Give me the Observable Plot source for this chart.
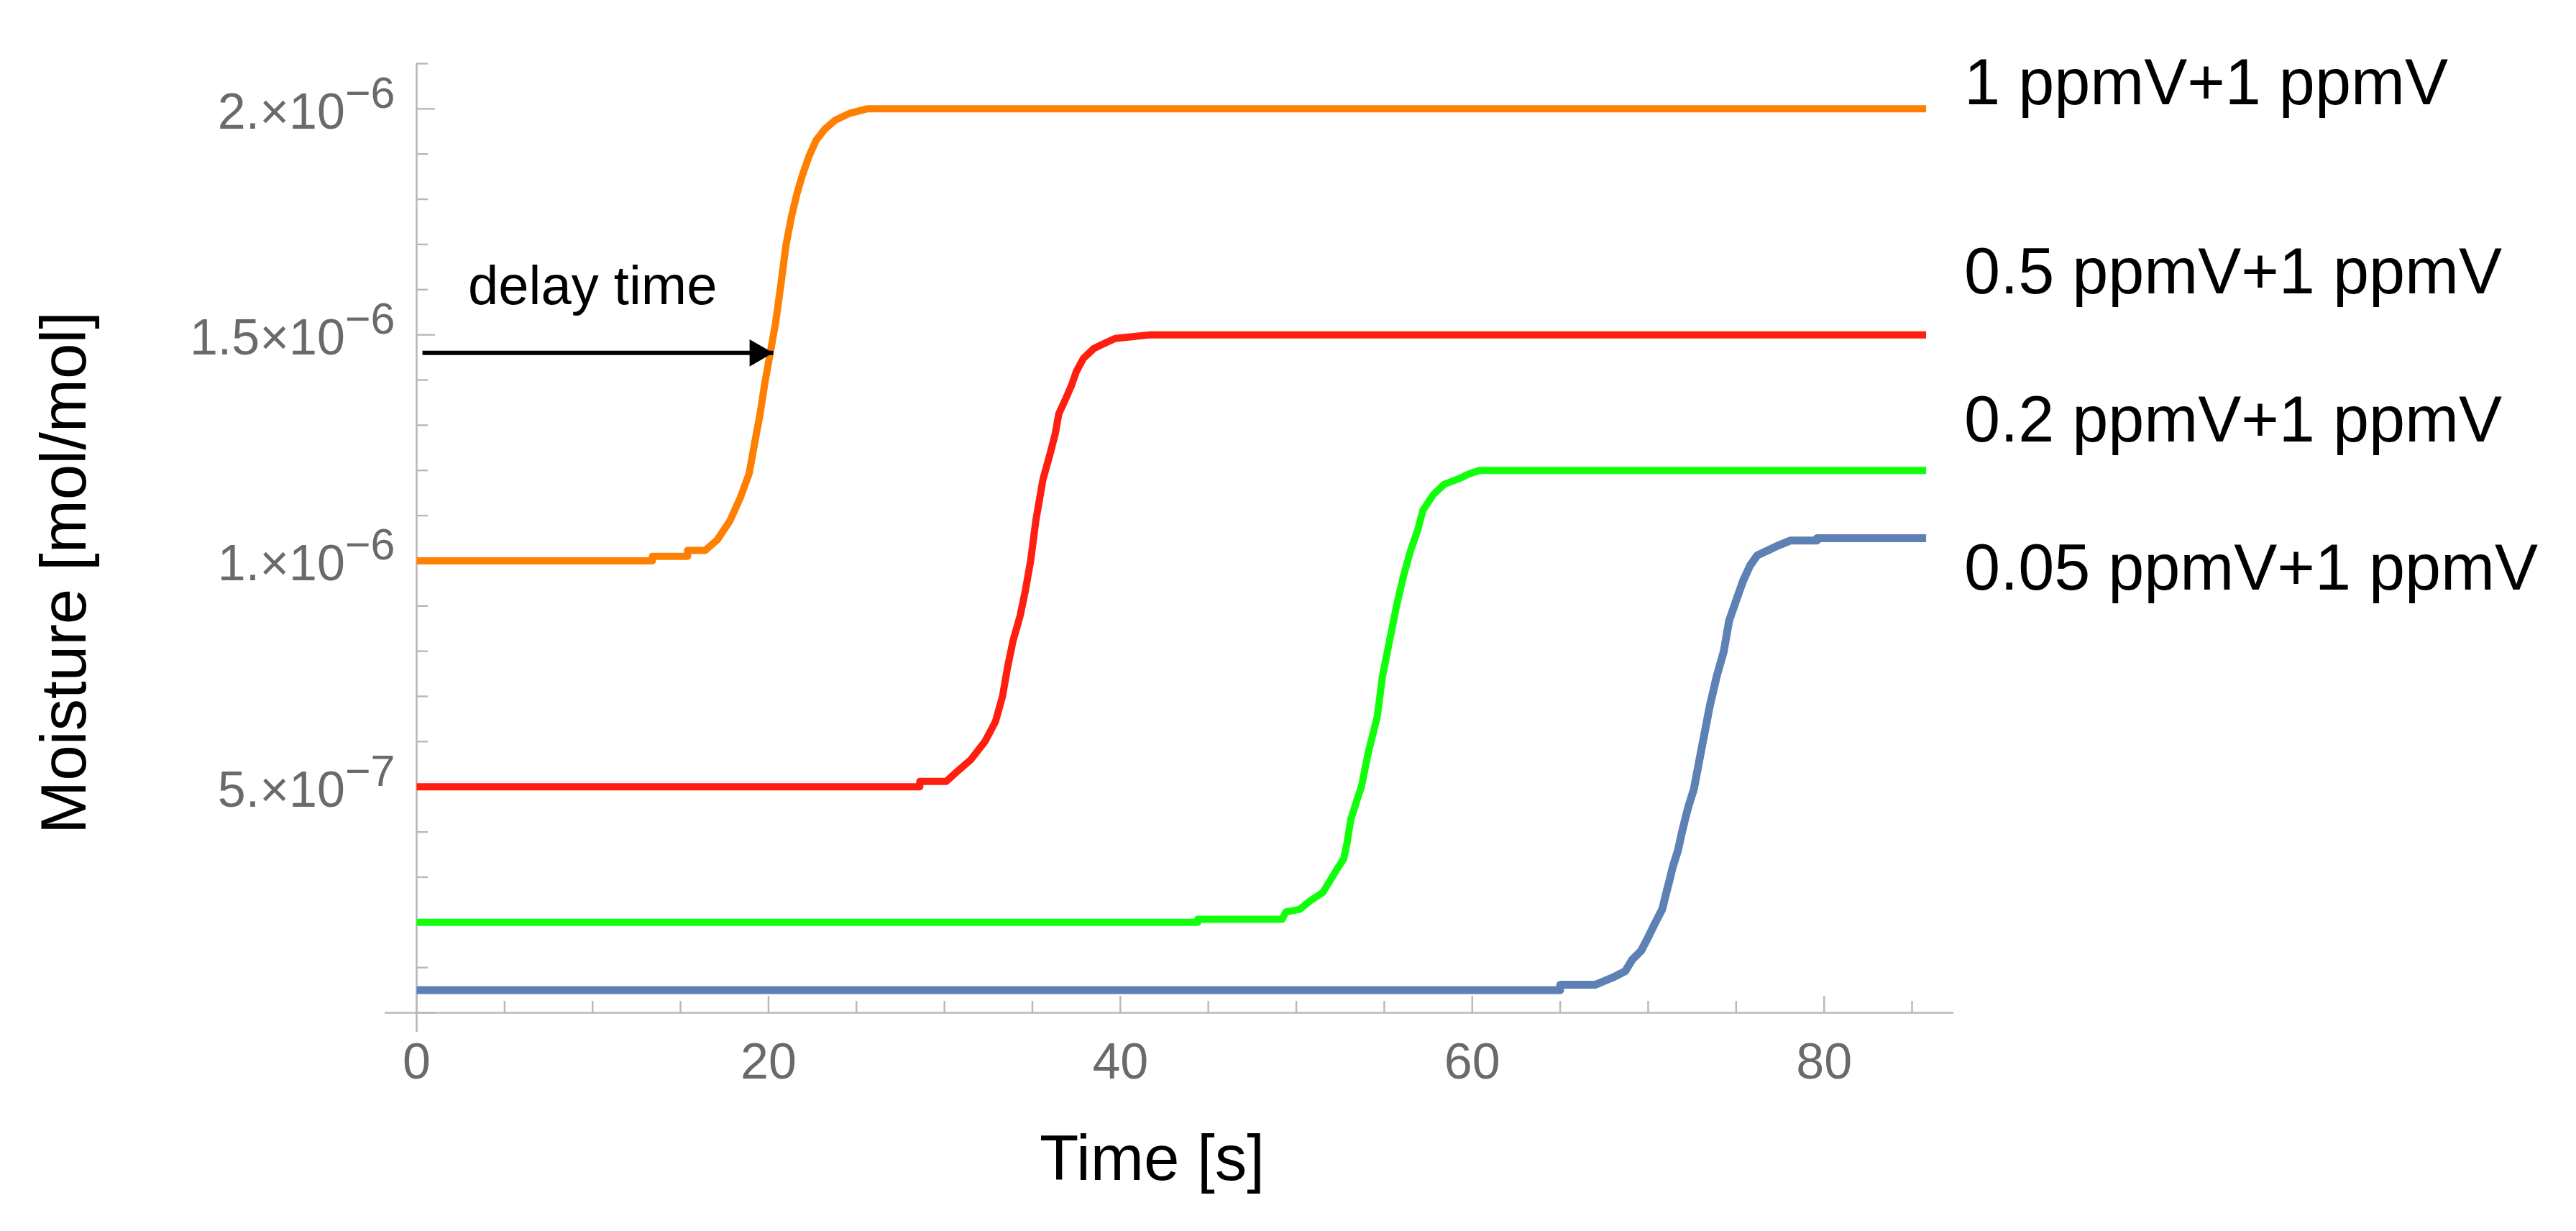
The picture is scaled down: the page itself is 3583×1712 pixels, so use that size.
<!DOCTYPE html>
<html>
<head>
<meta charset="utf-8">
<script src="https://cdn.jsdelivr.net/npm/d3@7"></script>
<script src="https://cdn.jsdelivr.net/npm/@observablehq/plot@0.6"></script>
<style>
  html, body { margin: 0; padding: 0; background: #ffffff; }
  #chart svg { display: block; }
</style>
</head>
<body>
<div id="chart"></div>
<script>
// ---------- data (moisture values in units of 1e-6 mol/mol) ----------
const seriesNames = ["1 ppmV+1 ppmV", "0.5 ppmV+1 ppmV", "0.2 ppmV+1 ppmV", "0.05 ppmV+1 ppmV"];

const orangeTime  = [0, 13.4, 13.4, 15.4, 15.4, 16.4, 17.1, 17.8, 18.4, 18.9, 19.2, 19.5, 19.8, 20.1, 20.4, 20.7, 21.0, 21.3, 21.6, 21.9, 22.3, 22.7, 23.2, 23.8, 24.6, 25.6, 85.8];
const orangeValue = [1.0, 1.0, 1.01, 1.01, 1.023, 1.023, 1.047, 1.088, 1.14, 1.193, 1.258, 1.32, 1.395, 1.46, 1.526, 1.61, 1.70, 1.76, 1.81, 1.85, 1.895, 1.93, 1.955, 1.975, 1.99, 2.0, 2.0];

const redTime  = [0, 28.6, 28.6, 30.1, 30.7, 31.5, 32.3, 32.9, 33.3, 33.6, 33.9, 34.3, 34.6, 34.9, 35.2, 35.6, 36.0, 36.3, 36.5, 36.9, 37.2, 37.5, 37.9, 38.5, 39.1, 39.7, 41.7, 85.8];
const redValue = [0.5, 0.5, 0.512, 0.512, 0.533, 0.56, 0.60, 0.644, 0.70, 0.767, 0.823, 0.878, 0.934, 1.0, 1.09, 1.18, 1.236, 1.281, 1.325, 1.359, 1.386, 1.419, 1.448, 1.47, 1.481, 1.492, 1.5, 1.5];

const greenTime  = [0, 44.4, 44.4, 49.2, 49.4, 50.2, 50.8, 51.5, 51.9, 52.3, 52.7, 52.9, 53.1, 53.5, 53.7, 54.1, 54.6, 54.9, 55.3, 55.7, 56.1, 56.5, 56.9, 57.2, 57.8, 58.4, 59.2, 59.8, 60.4, 85.8];
const greenValue = [0.2, 0.2, 0.207, 0.207, 0.223, 0.229, 0.248, 0.266, 0.291, 0.317, 0.341, 0.379, 0.428, 0.477, 0.50, 0.577, 0.655, 0.745, 0.823, 0.901, 0.967, 1.023, 1.068, 1.112, 1.147, 1.169, 1.181, 1.192, 1.2, 1.2];

const blueTime  = [0, 65.0, 65.0, 67.0, 68.1, 68.7, 69.1, 69.6, 70.0, 70.4, 70.8, 71.0, 71.2, 71.4, 71.7, 71.9, 72.1, 72.3, 72.6, 73.0, 73.5, 73.9, 74.3, 74.6, 75.0, 75.4, 75.8, 76.2, 76.8, 77.4, 78.1, 79.6, 79.6, 85.8];
const blueValue = [0.05, 0.05, 0.062, 0.062, 0.08, 0.092, 0.118, 0.137, 0.167, 0.199, 0.229, 0.261, 0.291, 0.323, 0.36, 0.396, 0.428, 0.458, 0.495, 0.577, 0.678, 0.745, 0.80, 0.867, 0.912, 0.956, 0.99, 1.012, 1.023, 1.034, 1.045, 1.045, 1.05, 1.05];

// ticks
const xMajorTicks = [0, 20, 40, 60, 80];
const xMinorTicks = [5, 10, 15, 25, 30, 35, 45, 50, 55, 65, 70, 75, 85];
const yMajorTicks = [0, 0.5, 1.0, 1.5, 2.0];
const yMinorTicks = [0.1, 0.2, 0.3, 0.4, 0.6, 0.7, 0.8, 0.9, 1.1, 1.2, 1.3, 1.4, 1.6, 1.7, 1.8, 1.9, 2.1];
const yLabelTicks = [0.5, 1.0, 1.5, 2.0];

// annotation
const annotationLabel = ["delay time"];
const annotationTextAt = [10.0, 1.607];
const arrowFrom = [0.33, 1.46];
const arrowTo = [20.27, 1.46];

// ---------- build ----------
const U = 1e-6;
const seriesData = [
  {name: seriesNames[0], t: orangeTime, v: orangeValue},
  {name: seriesNames[1], t: redTime, v: redValue},
  {name: seriesNames[2], t: greenTime, v: greenValue},
  {name: seriesNames[3], t: blueTime, v: blueValue}
];
const seriesStyle = [
  {color: "#ff8000", width: 10, labelDy: -35},
  {color: "#ff1e0f", width: 10, labelDy: -86},
  {color: "#12ff0c", width: 10, labelDy: -69},
  {color: "#5e81b5", width: 11, labelDy: 43}
];
const rows = seriesData.map(s => s.t.map((t, i) => ({series: s.name, t, v: s.v[i] * U})));

const axisGray = "#b8b8b8";
const labelGray = "#6a6a6a";
const FONT = "'Liberation Sans', Arial, Helvetica, sans-serif";

function sciFormat(d) {
  const exp = Math.floor(Math.log10(d) + 1e-9);
  const m = Math.round(d / Math.pow(10, exp) * 10) / 10;
  const ms = Number.isInteger(m) ? m + "." : String(m);
  return ms + "\u00d710^\u2212" + Math.abs(exp);
}

const marks = [];
// axis lines through the origin
marks.push(Plot.ruleY([0], {stroke: axisGray, strokeWidth: 2.6, insetLeft: -44}));
marks.push(Plot.ruleX([0], {stroke: axisGray, strokeWidth: 2.6, insetBottom: -27}));
// ticks pointing into the plot
marks.push(Plot.axisX(xMajorTicks, {anchor: "bottom", tickSize: -23, stroke: axisGray, strokeWidth: 2.4, fill: "none", label: null}));
marks.push(Plot.axisX(xMinorTicks, {anchor: "bottom", tickSize: -16, stroke: axisGray, strokeWidth: 2.4, fill: "none", label: null}));
marks.push(Plot.axisX(xMajorTicks, {anchor: "bottom", tickSize: 0, tickPadding: 42, fill: labelGray, fontSize: 70, tickFormat: d => String(d), label: null}));
marks.push(Plot.axisY(yMajorTicks.map(d => d * U), {anchor: "left", tickSize: -26, stroke: axisGray, strokeWidth: 2.4, fill: "none", label: null}));
marks.push(Plot.axisY(yMinorTicks.map(d => d * U), {anchor: "left", tickSize: -16, stroke: axisGray, strokeWidth: 2.4, fill: "none", label: null}));
marks.push(Plot.axisY(yLabelTicks.map(d => d * U), {anchor: "left", tickSize: 0, tickPadding: 30, fill: labelGray, fontSize: 70, dy: 5, tickFormat: sciFormat, label: null}));

// series lines
rows.forEach((r, i) => {
  marks.push(Plot.line(r, {x: "t", y: "v", stroke: seriesStyle[i].color, strokeWidth: seriesStyle[i].width, curve: "linear", strokeLinejoin: "round", strokeLinecap: "butt"}));
});
// series labels at line ends
rows.forEach((r, i) => {
  marks.push(Plot.text([r[r.length - 1]], {x: "t", y: "v", text: "series", textAnchor: "start", dx: 53, dy: seriesStyle[i].labelDy, fontSize: 90, fill: "#000"}));
});

// delay time annotation
marks.push(Plot.link([0], {x1: () => arrowFrom[0], y1: () => arrowFrom[1] * U, x2: () => arrowTo[0], y2: () => arrowTo[1] * U, stroke: "#000", strokeWidth: 6}));
marks.push(Plot.dot([0], {x: () => arrowTo[0], y: () => arrowTo[1] * U, symbol: "triangle", r: 14, rotate: 90, fill: "#000", stroke: "none", dx: -22}));
marks.push(Plot.text(annotationLabel, {x: () => annotationTextAt[0], y: () => annotationTextAt[1] * U, text: d => d, fontSize: 76, fill: "#000"}));

// axis titles
marks.push(Plot.text(["Time [s]"], {frameAnchor: "bottom", text: d => d, textAnchor: "middle", lineAnchor: "top", dx: -46, dy: 169, fontSize: 89, fill: "#000"}));
marks.push(Plot.text(["Moisture [mol/mol]"], {frameAnchor: "left", text: d => d, textAnchor: "middle", lineAnchor: "middle", rotate: -90, dx: -489, dy: 48, fontSize: 89, fill: "#000"}));

const chart = Plot.plot({
  width: 3583,
  height: 1712,
  marginLeft: 579,
  marginRight: 866,
  marginTop: 88,
  marginBottom: 304,
  x: {domain: [0, 87.37]},
  y: {domain: [0, 2.1e-6]},
  style: {fontFamily: FONT, background: "#ffffff", overflow: "visible"},
  marks
});

// superscript exponents on y tick labels
const NS = "http://www.w3.org/2000/svg";
chart.querySelectorAll('g[aria-label="y-axis tick label"] text').forEach(t => {
  const parts = t.textContent.split("^");
  if (parts.length < 2) return;
  t.textContent = parts[0];
  const ts = document.createElementNS(NS, "tspan");
  ts.setAttribute("dy", "-29");
  ts.setAttribute("font-size", "61");
  ts.textContent = parts[1];
  t.appendChild(ts);
});

document.getElementById("chart").appendChild(chart);
</script>
</body>
</html>
